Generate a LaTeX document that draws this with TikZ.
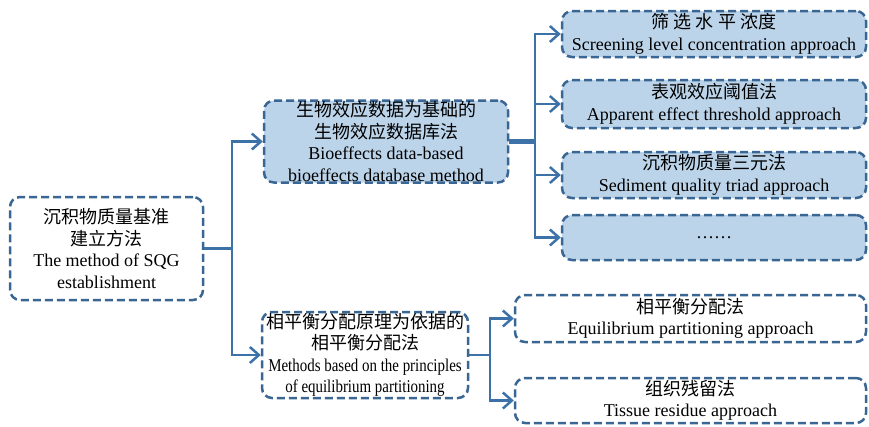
\documentclass[tikz,border=0pt]{standalone}
\usepackage{fontspec}
\setmainfont{Liberation Serif}
\newfontfamily\cjk{Noto Sans CJK SC}
\usetikzlibrary{arrows.meta}
\definecolor{bordc}{HTML}{3A6693}
\definecolor{fillc}{HTML}{BCD4EA}
\definecolor{arrc}{HTML}{3D72A8}
\newcommand\zh[1]{{\cjk #1}}
\tikzset{
  box/.style={draw=bordc, line width=2.5pt, dash pattern=on 8pt off 4pt,
    rounded corners=10pt, align=center, inner sep=0pt,
    font=\fontsize{18}{21.5}\selectfont},
  filled/.style={box, fill=fillc},
  plain/.style={box, fill=white},
  conn/.style={draw=arrc, line width=2.5pt},
  arr/.style={conn, -{Straight Barb[length=9pt,width=16pt,line width=2.5pt]}}
}
\begin{document}
\begin{tikzpicture}[x=1pt,y=-1pt]
\useasboundingbox (0,0) rectangle (869,426);
% nodes
\node[plain, minimum width=193pt, minimum height=103pt] (root) at (106.5,248.5)
  {\zh{沉积物质量基准}\\\zh{建立方法}\\The method of SQG\\establishment};
\node[filled, minimum width=244pt, minimum height=82pt] (bio) at (386,141.5)
  {\zh{生物效应数据为基础的}\\\zh{生物效应数据库法}\\Bioeffects data-based\\bioeffects database method};
\node[plain, minimum width=206pt, minimum height=86pt] (eq) at (365,355)
  {\zh{相平衡分配原理为依据的}\\\zh{相平衡分配法}\\\scalebox{0.83}[1]{Methods based on the principles}\\\scalebox{0.83}[1]{of equilibrium partitioning}};
\node[filled, minimum width=304pt, minimum height=46pt] (r1) at (714,34)
  {\zh{筛 选 水 平 浓度}\\Screening level concentration approach};
\node[filled, minimum width=304pt, minimum height=48pt] (r2) at (714,104)
  {\zh{表观效应阈值法}\\Apparent effect threshold approach};
\node[filled, minimum width=304pt, minimum height=46pt] (r3) at (714,175)
  {\zh{沉积物质量三元法}\\Sediment quality triad approach};
\node[filled, minimum width=304pt, minimum height=45pt] (r4) at (714,237.5)
  {……};
\node[plain, minimum width=351pt, minimum height=47pt] (f1) at (690.5,318.5)
  {\zh{相平衡分配法}\\Equilibrium partitioning approach};
\node[plain, minimum width=351pt, minimum height=45pt] (f2) at (690.5,400.5)
  {\zh{组织残留法}\\Tissue residue approach};
% junctions
\coordinate (j1) at (232,248.5);
\coordinate (j2) at (535,141.5);
\coordinate (j3) at (490,355);
% connectors
\draw[conn] (root.east) -- (j1);
\draw[arr] (j1) |- (bio.west);
\draw[arr] (j1) |- (eq.west);
\draw[conn, line width=5pt] (bio.east) -- (j2);
\draw[arr] (j2) |- (r1.west);
\draw[arr] (j2) |- (r2.west);
\draw[arr] (j2) |- (r3.west);
\draw[arr] (j2) |- (r4.west);
\draw[conn] (eq.east) -- (j3);
\draw[arr] (j3) |- (f1.west);
\draw[arr] (j3) |- (f2.west);
\end{tikzpicture}
\end{document}
